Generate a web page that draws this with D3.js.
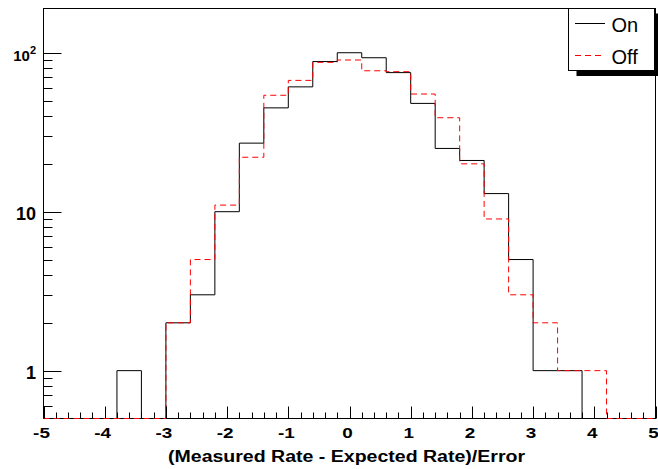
<!DOCTYPE html>
<html>
<head>
<meta charset="utf-8">
<script src="https://cdn.jsdelivr.net/npm/d3@7"></script>
<style>
body { margin: 0; background: #fff; }
text { font-family: 'Liberation Sans', Arial, Helvetica, sans-serif; }
</style>
</head>
<body>
<svg id="chart" width="658" height="469"></svg>
<script>

// bin edges, 25 bins of 0.4
const binEdges = [-5, -4.6, -4.2, -3.8, -3.4, -3, -2.6, -2.2, -1.8, -1.4, -1, -0.6, -0.2,
                  0.2, 0.6, 1, 1.4, 1.8, 2.2, 2.6, 3, 3.4, 3.8, 4.2, 4.6, 5]
const onCounts  = [0, 0, 0, 1, 0, 2, 3, 10, 27, 45, 61, 88, 100, 93, 75, 48, 25, 21, 13, 5, 1, 1, 0, 0, 0]
const offCounts = [0, 0, 0, 0, 0, 2, 5, 11, 22, 54, 67, 87, 90, 77, 76, 55, 39, 20, 9, 3, 2, 1, 1, 0, 0]

const xTickValues = [-5, -4, -3, -2, -1, 0, 1, 2, 3, 4, 5]
const xTickLabels = ['-5', '-4', '-3', '-2', '-1', '0', '1', '2', '3', '4', '5']
const yTickValues = [1, 10, 100]
const yTickLabels = ['1', '10', '10']
const yTickExps = ['', '', '2']
const legendLabels = ['On', 'Off']
const xTitle = '(Measured Rate - Expected Rate)/Error'

const frameL = 43.5, frameR = 655.5, frameT = 8.5, frameB = 418.5

const svg = d3.select('#chart')

const x = d3.scaleLinear().domain([-5, 5]).range([frameL, frameR])
const y = d3.scaleLog().domain([0.5, 189.8]).range([frameB, frameT])

svg.append('defs').append('clipPath')
    .attr('id', 'frameclip')
    .append('rect')
    .attr('x', frameL - 1).attr('y', frameT)
    .attr('width', frameR - frameL + 2).attr('height', frameB - frameT + 1)

// frame
svg.append('rect')
    .attr('x', frameL).attr('y', frameT)
    .attr('width', frameR - frameL).attr('height', frameB - frameT)
    .attr('fill', 'none')
    .attr('stroke', '#000')
    .attr('stroke-width', 1)

// histograms
const step = d3.line()
    .x(d => x(d[0]))
    .y(d => y(Math.max(d[1], 0.5)))
    .curve(d3.curveStepAfter)

function histPoints(counts) {
  let pts = counts.map((c, i) => [binEdges[i], c])
  pts.push([binEdges[binEdges.length - 1], counts[counts.length - 1]])
  return pts
}

const hist = svg.append('g').attr('clip-path', 'url(#frameclip)')

hist.append('path')
    .attr('d', step(histPoints(onCounts)))
    .attr('fill', 'none')
    .attr('stroke', '#000')
    .attr('stroke-width', 1)

hist.append('path')
    .attr('d', step(histPoints(offCounts)))
    .attr('fill', 'none')
    .attr('stroke', '#ff0000')
    .attr('stroke-width', 1)
    .attr('stroke-dasharray', '6,4')

// x ticks, pointing up into the frame, as thin rects
const xMinor = d3.range(-50, 51, 2).map(i => i / 10)

svg.append('g')
    .selectAll('rect')
    .data(xMinor)
    .enter()
    .append('rect')
    .attr('x', d => Math.round(x(d)))
    .attr('width', 1)
    .attr('y', d => Math.abs(d - Math.round(d)) < 1e-6 ? frameB - 12 : frameB - 6)
    .attr('height', d => Math.abs(d - Math.round(d)) < 1e-6 ? 12 : 6)
    .attr('fill', '#000')

svg.append('g')
    .selectAll('text')
    .data(xTickValues)
    .enter()
    .append('text')
    .attr('transform', d => `translate(${x(d) - 2},438) scale(1.35,1)`)
    .attr('text-anchor', 'middle')
    .style('font-size', '14px')
    .style('font-weight', 'bold')
    .text((d, i) => xTickLabels[i])

// y ticks, as thin rects
const yMinor = [0.6, 0.7, 0.8, 0.9, 2, 3, 4, 5, 6, 7, 8, 9, 20, 30, 40, 50, 60, 70, 80, 90]

svg.append('g')
    .selectAll('rect')
    .data(yMinor.concat(yTickValues))
    .enter()
    .append('rect')
    .attr('x', frameL)
    .attr('width', d => yTickValues.includes(d) ? 18 : 9)
    .attr('y', d => Math.round(y(d)))
    .attr('height', 1)
    .attr('fill', '#000')

let yLabels = svg.append('g')
    .selectAll('text')
    .data(yTickValues)
    .enter()
    .append('text')
    .attr('x', 36)
    .attr('y', d => y(d) + 8.5)
    .attr('text-anchor', 'end')
    .style('font-size', '18px')
    .style('font-weight', 'bold')

yLabels.append('tspan')
    .text((d, i) => yTickLabels[i])
    .attr('font-size', (d, i) => yTickExps[i] ? '15px' : null)

yLabels.append('tspan')
    .attr('dy', -7)
    .attr('font-size', '11px')
    .text((d, i) => yTickExps[i])

// x title
svg.append('text')
    .attr('x', 168)
    .attr('y', 462)
    .attr('textLength', 357)
    .attr('lengthAdjust', 'spacingAndGlyphs')
    .style('font-size', '16px')
    .style('font-weight', 'bold')
    .text(xTitle)

// legend
const legend = svg.append('g')

legend.append('rect')
    .attr('x', 576.5).attr('y', 13.5)
    .attr('width', 90).attr('height', 62.5)
    .attr('fill', '#000')

legend.append('rect')
    .attr('x', 568.5).attr('y', 8.5)
    .attr('width', 86).attr('height', 62)
    .attr('fill', '#fff')
    .attr('stroke', '#000')

const legendStyles = [{color: '#000', dash: null, ly: 23.5, ty: 32.3},
                      {color: '#ff0000', dash: '6,4', ly: 55.5, ty: 64.3}]

legend.selectAll('line')
    .data(legendLabels)
    .enter()
    .append('line')
    .attr('x1', 575).attr('x2', 605)
    .attr('y1', (d, i) => legendStyles[i].ly)
    .attr('y2', (d, i) => legendStyles[i].ly)
    .attr('stroke', (d, i) => legendStyles[i].color)
    .attr('stroke-dasharray', (d, i) => legendStyles[i].dash)

legend.selectAll('text')
    .data(legendLabels)
    .enter()
    .append('text')
    .attr('x', 611.5)
    .attr('y', (d, i) => legendStyles[i].ty)
    .style('font-size', '20px')
    .text(d => d)

</script>
</body>
</html>
